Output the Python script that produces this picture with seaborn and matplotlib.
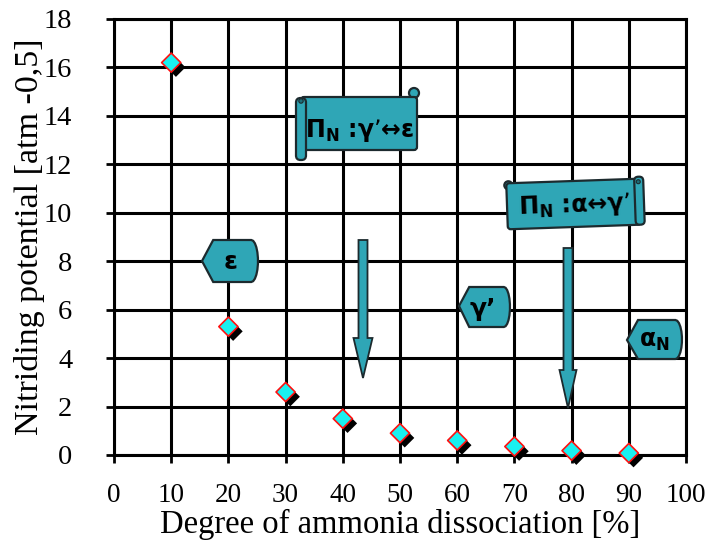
import numpy as np
import pandas as pd
import matplotlib
matplotlib.use("Agg")
import matplotlib.pyplot as plt
import matplotlib.patheffects as pe
from matplotlib.patches import Polygon, FancyBboxPatch, Circle, FancyArrow
from matplotlib.transforms import Affine2D
import seaborn as sns

# Degree of ammonia dissociation [%] and resulting nitriding potential
dissociation = [10, 20, 30, 40, 50, 60, 70, 80, 90]
potential = [16.2, 5.3, 2.6, 1.5, 0.9, 0.6, 0.35, 0.18, 0.08]

x_ticks = list(range(0, 101, 10))
y_ticks = list(range(0, 19, 2))

df = pd.DataFrame({"alpha": dissociation, "Kn": potential})

sns.set_theme(style="white")
plt.rcParams["font.family"] = ["Liberation Serif", "DejaVu Serif"]
plt.rcParams["mathtext.fontset"] = "dejavusans"

W, H = 716, 542
fig = plt.figure(figsize=(W / 100, H / 100), dpi=100)
ax = fig.add_axes([114 / W, 1 - 455 / H, 572 / W, 436 / H])

sns.scatterplot(
    data=df, x="alpha", y="Kn", ax=ax, marker="D", s=95,
    color="#19f0f0", edgecolor="#ff1010", linewidth=1.2, zorder=5,
    clip_on=False,
)
coll = ax.collections[-1]
coll.set_path_effects([
    pe.SimplePatchShadow(offset=(3.4, -3.4), shadow_rgbFace="black", alpha=1.0),
    pe.Normal(),
])

ax.set_xlim(0, 100)
ax.set_ylim(0, 18)
ax.set_xticks(x_ticks)
ax.set_yticks(y_ticks)
ax.grid(True, color="black", linewidth=2.2)
ax.set_axisbelow(True)
for sp in ax.spines.values():
    sp.set_color("black")
    sp.set_linewidth(2.2)
ax.tick_params(axis="both", direction="out", length=6, width=2, color="black",
               labelcolor="black")
ax.tick_params(axis="x", bottom=True, labelsize=19.5, pad=14)
ax.tick_params(axis="y", left=True, labelsize=20.5, pad=24)
ax.set_xlabel("Degree of ammonia dissociation [%]", fontsize=23.5, color="black", labelpad=1)
ax.set_ylabel("Nitriding potential [atm -0,5]", fontsize=24.5, color="black", labelpad=-1)

# Overlay in pixel units for the phase tags, scrolls and arrows
ov = fig.add_axes([0, 0, 1, 1], facecolor="none")
ov.set_xlim(0, W)
ov.set_ylim(H, 0)
ov.axis("off")

TEAL = "#2fa6b6"
EDGE = "#1c2a2e"
lab_font = ["DejaVu Sans"]


def tag(x0, x1, y0, y1, tip_y, label, tx, ty, fs=15):
    xm = x0 + 0.2 * (x1 - x0)
    r = x1 - 0.12 * (x1 - x0)
    th = np.linspace(np.pi / 2, -np.pi / 2, 12)
    cy = (y0 + y1) / 2
    ry = (y1 - y0) / 2
    arc = [(r + (x1 - r) * np.cos(t), cy - ry * np.sin(t)) for t in th]
    pts = [(x0, tip_y), (xm, y0)] + arc + [(xm, y1)]
    ov.add_patch(Polygon(pts, closed=True, facecolor=TEAL, edgecolor=EDGE, lw=1.6, zorder=6))
    ov.text(tx, ty, label, ha="center", va="center", fontsize=fs, fontweight="bold",
            family=lab_font, color="black", zorder=7)


def scroll(bx0, bx1, by0, by1, roll_side, label, tx, ty, angle=0.0, fs=15):
    cx, cy = (bx0 + bx1) / 2, (by0 + by1) / 2
    tr = Affine2D().rotate_deg_around(cx, cy, angle) + ov.transData
    body = FancyBboxPatch((bx0, by0), bx1 - bx0, by1 - by0,
                          boxstyle="round,pad=0,rounding_size=3",
                          facecolor=TEAL, edgecolor=EDGE, lw=1.6, zorder=6, transform=tr)
    ov.add_patch(body)
    if roll_side == "left":
        roll = FancyBboxPatch((bx0 - 5, by0 + 1), 10, (by1 - by0) + 9,
                              boxstyle="round,pad=0,rounding_size=4.5",
                              facecolor=TEAL, edgecolor=EDGE, lw=1.6, zorder=6, transform=tr)
        curl = Circle((bx1 - 3, by0 - 4), 5, facecolor=TEAL, edgecolor=EDGE, lw=1.6,
                      zorder=5.9, transform=tr)
        dot = Circle((bx0, by0 + 4), 2.2, facecolor="#1d6f7a", edgecolor=EDGE, lw=0.8,
                     zorder=6.1, transform=tr)
    else:
        roll = FancyBboxPatch((bx1 - 5, by0 - 2), 9, (by1 - by0) + 2,
                              boxstyle="round,pad=0,rounding_size=4",
                              facecolor=TEAL, edgecolor=EDGE, lw=1.6, zorder=6, transform=tr)
        curl = Circle((bx0 + 2, by0 + 2), 4, facecolor=TEAL, edgecolor=EDGE, lw=1.6,
                      zorder=5.9, transform=tr)
        dot = Circle((bx1 - 1, by0 + 3), 2, facecolor="#1d6f7a", edgecolor=EDGE, lw=0.8,
                     zorder=6.1, transform=tr)
    ov.add_patch(curl)
    ov.add_patch(roll)
    ov.add_patch(dot)
    ov.text(tx, ty, label, ha="center", va="center", fontsize=fs, fontweight="bold",
            family=lab_font, color="black", zorder=7, rotation=-angle,
            rotation_mode="anchor")


def arrow(x, y_top, y_tip, head_len, shaft_w, head_w):
    ov.add_patch(FancyArrow(x, y_top, 0, y_tip - y_top, width=shaft_w,
                            head_width=head_w, head_length=head_len,
                            length_includes_head=True, facecolor=TEAL,
                            edgecolor=EDGE, lw=1.3, zorder=6))


scroll(301, 417, 97, 150, "left", r"$\mathbf{\Pi_N}$ :γ’↔ε", 360, 131, angle=0, fs=17)
scroll(507, 640, 181, 227, "right", r"$\mathbf{\Pi_N}$ :α↔γ’", 574, 206, angle=-2, fs=17)

tag(202, 258, 240, 282, 261, "ε", 231, 262, fs=18)
tag(459, 510, 287, 327, 306, "γ’", 483, 309, fs=18)
tag(627, 682, 320, 359, 340, r"α$_\mathbf{N}$", 654, 341, fs=17)

arrow(363, 240, 378, 40, 9, 19)
arrow(568, 248, 408, 38, 9, 17)

fig.savefig("out.png", dpi=100)
